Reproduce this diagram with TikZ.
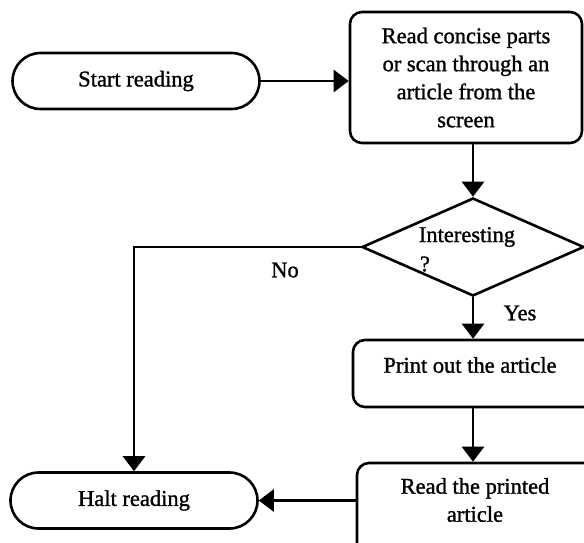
\documentclass[tikz,border=0pt]{standalone}
\usepackage{fontspec}
\setmainfont{Liberation Serif}[BoldFont=Liberation Serif, BoldFeatures={FakeBold=1.2}]
\usetikzlibrary{shapes.geometric,shapes.misc,arrows.meta}
\begin{document}
\begin{tikzpicture}[x=1pt,y=-1pt,
  line width=2.6pt,
  every node/.style={font=\fontsize{22.5}{28}\selectfont\bfseries, inner sep=0pt},
  term/.style={draw, rounded rectangle, minimum width=247pt, minimum height=56pt},
  procbox/.style={draw, rounded corners=12pt},
  decision/.style={draw, diamond, minimum width=222pt, minimum height=98pt},
  flow/.style={-{Triangle[length=15pt,width=22pt]}}
]
\useasboundingbox (0,0) rectangle (584,542);
\clip (0,0) rectangle (584,542);

\node[term] (start) at (136,81) {Start reading};
\node[procbox, minimum width=232pt, minimum height=131pt, align=center] (read) at (466,77.5)
  {Read concise parts\\or scan through an\\article from the\\screen};
\node[decision] (dec) at (473,247) {};
\node (qtext) at (467,237) {Interesting};
\node (qmark) at (425,264) {?};
\node[procbox, minimum width=260pt, minimum height=67pt] (print) at (483,373.5) {};
\node (printtxt) at (470,365) {Print out the article};
\node[procbox, minimum width=260pt, minimum height=110pt] (readp) at (487,518) {};
\node[align=center] (readptxt) at (475,500) {Read the printed\\article};
\node[term] (halt) at (134,500.5) {Halt reading};
\node (no) at (285,270) {No};
\node (yes) at (520,313) {Yes};

\draw[flow] (start.east) -- (start.east -| read.west);
\draw[flow] (dec.north |- read.south) -- (dec.north);
\draw[flow] (dec.south) -- (dec.south |- print.north);
\draw[flow] (dec.south |- print.south) -- (dec.south |- readp.north);
\draw[flow] (halt.east -| readp.west) -- (halt.east);
\coordinate (corner) at (halt.north |- dec.west);
\draw[flow] (dec.west) -- (corner) -- (halt.north);
\end{tikzpicture}
\end{document}
